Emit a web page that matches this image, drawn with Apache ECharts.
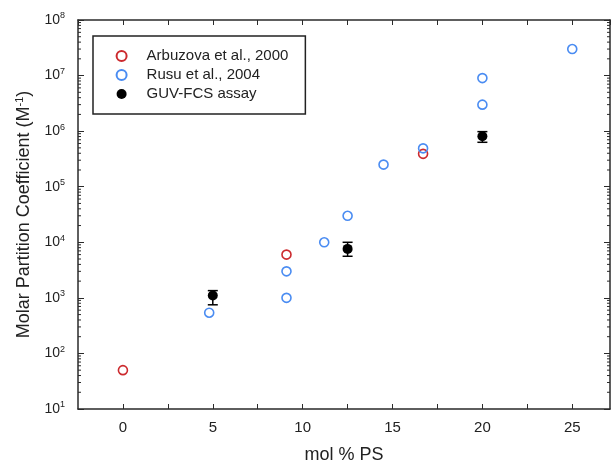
<!DOCTYPE html>
<html>
<head>
<meta charset="utf-8">
<script src="https://cdn.jsdelivr.net/npm/echarts@6/dist/echarts.min.js"></script>
<style>
html,body{margin:0;padding:0;background:#fff;}
#chart{width:611px;height:464px;}
</style>
</head>
<body>
<div id="chart"></div>
<script>
// ---- data ----
const arbuzovaX = [0, 9.1, 16.7];
const arbuzovaY = [50, 6000, 390000];
const rusuX = [4.8, 9.1, 9.1, 11.2, 12.5, 14.5, 16.7, 20, 20, 25];
const rusuY = [540, 3000, 1000, 10000, 30000, 250000, 490000, 3000000, 9000000, 30000000];
const guvX = [5, 12.5, 20];
const guvY = [1100, 7600, 810000];
const guvLow = [750, 5600, 630000];
const guvHigh = [1350, 10000, 980000];
const xTickLabels = [0, 5, 10, 15, 20, 25];
const yDecades = [1, 2, 3, 4, 5, 6, 7, 8];
const minorMultipliers = [2, 3, 4, 5, 6, 7, 8, 9];

const seriesNames = ['Arbuzova et al., 2000', 'Rusu et al., 2004', 'GUV-FCS assay'];
const RED = '#cc2a2e', BLUE = '#4a8cf2', AXIS = '#2a2a2a';
const FONT = 'Liberation Sans, Arial, sans-serif';
const XMIN = -2.5, XMAX = 27.1;

const zip = (xs, ys) => xs.map((x, i) => [x, ys[i]]);

const minorTicks = [];
yDecades.slice(0, -1).forEach(d => minorMultipliers.forEach(m => minorTicks.push([m * Math.pow(10, d)])));

const chart = echarts.init(document.getElementById('chart'), null, {renderer: 'canvas'});

const yLabelFmt = v => {
  const e = Math.round(Math.log10(v));
  return '{b|10}{s|' + e + '}';
};

const axisBase = {
  splitLine: {show: false},
  axisLine: {onZero: false, lineStyle: {color: AXIS, width: 1.5}},
};

const option = {
  animation: false,
  backgroundColor: '#fff',
  grid: {left: 78, top: 20, right: 1, bottom: 55, containLabel: false, outerBoundsMode: 'none'},
  legend: {
    data: seriesNames,
    orient: 'vertical',
    left: 93, top: 36,
    itemWidth: 40, itemHeight: 10, itemGap: 4,
    padding: [12.5, 17, 12.5, 22.6],
    borderColor: '#222', borderWidth: 1.5,
    backgroundColor: '#fff',
    textStyle: {fontFamily: FONT, fontSize: 15, color: '#222', lineHeight: 15}
  },
  xAxis: [Object.assign({}, axisBase, {
    type: 'value', min: XMIN, max: XMAX, interval: 2.5,
    axisTick: {inside: true, length: 5, lineStyle: {color: AXIS, width: 1}},
    axisLabel: {
      margin: 11, fontSize: 15, color: '#222', fontFamily: FONT,
      showMaxLabel: false, showMinLabel: false,
      formatter: v => xTickLabels.indexOf(v) >= 0 ? String(v) : ''
    },
    name: 'mol % PS', nameLocation: 'middle', nameGap: 37,
    nameTextStyle: {fontSize: 18, color: '#222', fontFamily: FONT}
  }), Object.assign({}, axisBase, {
    type: 'value', position: 'top', min: XMIN, max: XMAX, interval: 2.5,
    axisTick: {inside: true, length: 5, lineStyle: {color: AXIS, width: 1}},
    axisLabel: {show: false}
  })],
  yAxis: [Object.assign({}, axisBase, {
    type: 'log', logBase: 10, min: 10, max: 1e8,
    axisTick: {inside: true, length: 6, lineStyle: {color: AXIS, width: 1}},
    axisLabel: {
      margin: 13, formatter: yLabelFmt,
      rich: {
        b: {fontSize: 14, color: '#222', fontFamily: FONT},
        s: {fontSize: 9, color: '#222', fontFamily: FONT, verticalAlign: 'top', padding: [0, 0, 8, 0]}
      }
    },
    name: '{a|Molar Partition Coefficient (M}{s|-1}{a|)}',
    nameLocation: 'middle', nameGap: 44, nameRotate: 90,
    nameTextStyle: {
      rich: {
        a: {fontSize: 18, color: '#222', fontFamily: FONT},
        s: {fontSize: 11, color: '#222', fontFamily: FONT, padding: [0, 0, 9, 0]}
      }
    }
  }), Object.assign({}, axisBase, {
    type: 'log', logBase: 10, min: 10, max: 1e8, position: 'right',
    axisTick: {inside: true, length: 6, lineStyle: {color: AXIS, width: 1}},
    axisLabel: {show: false}
  })],
  series: [
    {
      name: 'yMinorTicks', type: 'custom', silent: true, z: 1,
      data: minorTicks,
      renderItem: (params, api) => {
        const v = api.value(0);
        const pL = api.coord([XMIN, v]);
        const pR = api.coord([XMAX, v]);
        const st = {stroke: AXIS, lineWidth: 1};
        return {type: 'group', children: [
          {type: 'line', shape: {x1: pL[0], y1: pL[1], x2: pL[0] + 3, y2: pL[1]}, style: st},
          {type: 'line', shape: {x1: pR[0], y1: pR[1], x2: pR[0] - 3, y2: pR[1]}, style: st}
        ]};
      },
      encode: {y: 0}
    },
    {
      name: seriesNames[0], type: 'scatter', symbol: 'circle', symbolSize: 9,
      itemStyle: {color: 'rgba(255,255,255,0)', borderColor: RED, borderWidth: 1.6, opacity: 1},
      data: zip(arbuzovaX, arbuzovaY), z: 3
    },
    {
      name: seriesNames[1], type: 'scatter', symbol: 'circle', symbolSize: 9,
      itemStyle: {color: 'rgba(255,255,255,0)', borderColor: BLUE, borderWidth: 1.6, opacity: 1},
      data: zip(rusuX, rusuY), z: 4
    },
    {
      name: 'guvErr', type: 'custom', z: 5,
      data: guvX.map((x, i) => [x, guvLow[i], guvHigh[i]]),
      renderItem: (params, api) => {
        const lo = api.coord([api.value(0), api.value(1)]);
        const hi = api.coord([api.value(0), api.value(2)]);
        const hw = 5;
        const st = {stroke: '#000', lineWidth: 1.5};
        return {type: 'group', children: [
          {type: 'line', shape: {x1: lo[0], y1: lo[1], x2: hi[0], y2: hi[1]}, style: st},
          {type: 'line', shape: {x1: lo[0] - hw, y1: lo[1], x2: lo[0] + hw, y2: lo[1]}, style: st},
          {type: 'line', shape: {x1: hi[0] - hw, y1: hi[1], x2: hi[0] + hw, y2: hi[1]}, style: st}
        ]};
      },
      encode: {x: 0, y: [1, 2]}
    },
    {
      name: seriesNames[2], type: 'scatter', symbol: 'circle', symbolSize: 10,
      itemStyle: {color: '#000', opacity: 1},
      data: zip(guvX, guvY), z: 6
    }
  ]
};
chart.setOption(option);
</script>
</body>
</html>
